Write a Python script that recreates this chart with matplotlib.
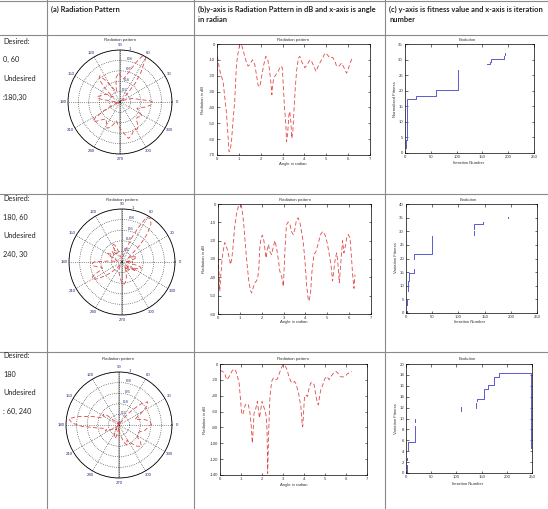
import numpy as np
import matplotlib
matplotlib.use('Agg')
import matplotlib.pyplot as plt
from matplotlib.lines import Line2D

plt.rcParams['font.family'] = ['Liberation Sans', 'DejaVu Sans']
plt.rcParams['axes.unicode_minus'] = False

# ---------------- data ----------------
headers = ["(a) Radiation Pattern",
           "(b)y-axis is Radiation Pattern in dB and x-axis is angle\nin radian",
           "(c) y-axis is fitness value and x-axis is iteration\nnumber"]
row_labels = [["Desired:", "0, 60", "Undesired", ":180,30"],
              ["Desired:", "180, 60", "Undesired", "240, 30"],
              ["Desired:", "180", "Undesired", ": 60, 240"]]

ang1 = [0.00,0.05,0.10,0.15,0.28,0.43,0.50,0.55,0.60,0.66,
        0.73,0.81,0.89,0.96,1.04,1.12,1.19,1.31,1.42,1.50,
        1.62,1.73,1.80,1.88,1.96,2.03,2.14,2.23,2.31,2.39,
        2.46,2.51,2.54,2.60,2.69,2.80,2.90,2.99,3.07,3.15,
        3.18,3.23,3.29,3.33,3.38,3.42,3.47,3.52,3.58,3.64,
        3.72,3.79,3.87,4.02,4.13,4.25,4.33,4.43,4.53,4.63,
        4.74,4.83,4.94,5.05,5.17,5.29,5.40,5.47,5.58,5.70,
        5.81,5.93,6.00,6.09,6.19]
db1 = [-8,-10,-15,-18,-24,-43,-57,-68,-67,-62,
       -49,-36,-13,-6,-0.4,-0.4,-3.6,-10,-14,-13,
       -10,-13,-19,-26,-27,-21.5,-13,-7.8,-8.9,-15,
       -23.6,-32,-26,-21.5,-19.4,-17.3,-14,-15,-36,-51,
       -61.6,-57,-44.7,-42.6,-49,-59.5,-55,-42.6,-28,-17.3,
       -8.9,-7.8,-11,-15,-13,-10,-11,-14,-17.3,-14,
       -11,-8.9,-5.7,-6.8,-8.9,-8.4,-11,-14,-14,-12,
       -15,-18.4,-16,-12,-8.9]

ang2 = [0.00,0.05,0.08,0.12,0.18,0.23,0.31,0.35,0.43,0.50,
        0.57,0.63,0.69,0.76,0.84,0.92,0.99,1.07,1.12,1.18,
        1.25,1.33,1.41,1.48,1.54,1.60,1.68,1.76,1.82,1.87,
        1.91,1.97,2.03,2.10,2.16,2.20,2.25,2.31,2.37,2.45,
        2.52,2.60,2.68,2.75,2.83,2.92,2.99,3.06,3.13,3.21,
        3.29,3.36,3.44,3.52,3.59,3.67,3.75,3.82,3.90,3.98,
        4.05,4.13,4.17,4.24,4.30,4.39,4.48,4.59,4.69,4.79,
        4.89,5.00,5.09,5.17,5.24,5.30,5.37,5.43,5.49,5.55,
        5.60,5.66,5.70,5.76,5.81,5.89,5.96,6.04,6.10,6.16,
        6.22,6.27]
db2 = [-29.5,-38.5,-47.6,-40,-31,-26,-21,-22,-25,-28.5,
       -33,-30,-23,-13,-5.8,-1.8,-0.4,-0.7,-5,-11.3,
       -22,-33,-42,-47,-48.5,-46,-43,-42,-40,-35,
       -24,-18.5,-17,-20,-26,-29.5,-25,-22,-26,-27.6,
       -24,-20,-24,-29.5,-36.7,-40,-45,-26,-11.3,-9.8,
       -11,-15,-16.7,-13.6,-8.5,-7.6,-10.4,-15,-21,-31,
       -44,-52,-53,-47.6,-36.7,-27.6,-26,-21.3,-16.7,-15,
       -16.7,-21.3,-27.6,-33,-42,-36,-29.5,-26.7,-33,-43,
       -35,-26,-20,-26.7,-24,-18.5,-16.7,-18.5,-28,-38.5,
       -46,-38.5]

ang3 = [0.00,0.13,0.24,0.32,0.40,0.48,0.59,0.68,0.76,0.83,
        0.91,0.99,1.03,1.08,1.14,1.21,1.27,1.35,1.43,1.49,
        1.54,1.59,1.62,1.69,1.78,1.83,1.88,1.94,2.00,2.13,
        2.19,2.24,2.27,2.32,2.38,2.46,2.54,2.64,2.73,2.83,
        2.94,3.02,3.10,3.18,3.28,3.37,3.47,3.55,3.62,3.74,
        3.85,3.91,3.94,3.97,4.02,4.09,4.17,4.24,4.32,4.42,
        4.48,4.56,4.64,4.69,4.74,4.80,4.90,4.98,5.09,5.20,
        5.29,5.41,5.52,5.61,5.72,5.83,5.96,6.07,6.20,6.28]
db3 = [-8.4,-9.3,-13.5,-19.8,-17.7,-13.5,-8,-6.3,-9.3,-15.6,
       -24,-49,-62,-64,-57.8,-51,-52.7,-51.5,-62,-79,
       -100,-79,-62,-57.8,-47,-57.8,-68,-57.8,-47,-57.8,
       -64,-83,-138,-83,-41,-22,-17.7,-19.8,-19,-11.4,
       -3.8,-0.8,-2.1,-6.3,-15.6,-22,-24,-22,-24.9,-36.7,
       -53.6,-74.7,-79,-66,-43,-38.8,-41,-30.4,-24,-23.2,
       -26,-38.8,-50,-51.5,-41,-32.5,-26,-19,-15.6,-19.8,
       -15.6,-11.4,-9.3,-11.4,-15.6,-16.5,-15.6,-12.2,-10.5,-9.7]

nan = np.nan
fit1_x = [1,1,nan,2,2,nan,3,3,4,4, 21,21,61,61,102,102,nan,158,165,165,
          167,167,192,192,nan,194,194,nan,250,250]
fit1_y = [1.5,2.7,nan,3.0,4.3,nan,4.3,10,10,17.3, 17.3,18.4,18.4,20.1,20.1,26.6,nan,28.6,28.6,29.3,
          29.3,30.3,30.3,31.0,nan,31.6,32.2,nan,12.2,24.1]
fit2_x = [2,2,nan,2,2,nan,4,4,5,5, 15,15,nan,15,15,50,50,nan,129,129,
          nan,130,130,147,147,nan,194,194,nan,250, 250,nan,250,250]
fit2_y = [0,0.8,nan,2.8,4.9,nan,8.2,11.6,11.6,14.6, 14.6,16.3,nan,19.9,21.6,21.6,28.4,nan,28.7,30.0,
          nan,31.0,32.6,32.6,33.4,nan,34.8,35.4,nan,0, 9.8,nan,26.8,39.6]
fit3_x = [1,1,nan,1,1,nan,3,3,18,18, nan,18,18,nan,109,109,nan,139,139,nan,
          141,141,155,155,162,162,174,174,184,184, 248,248]
fit3_y = [0,1.5,nan,2.3,2.75,nan,4.3,5.6,5.6,8.6, nan,9.3,9.9,nan,11.3,12.1,nan,12.0,12.9,nan,
          13.2,13.6,13.6,15.4,15.4,16.2,16.2,17.6,17.6,18.4, 18.4,4.6]

angle_labels = [str(a) for a in range(0, 360, 30)]
r_ticks = [0.2, 0.4, 0.6, 0.8, 1.0]
r_labels = ['0.2', '0.4', '0.6', '0.8', '1']
iter_ticks = [0, 50, 100, 150, 200, 250]

# ---------------- layout helpers ----------------
W, H = 548, 509
fig = plt.figure(figsize=(W / 100, H / 100), dpi=100)
fig.patch.set_facecolor('white')

def box(l, t, r, b):
    return [l / W, 1 - b / H, (r - l) / W, (b - t) / H]

def fx(x):
    return x / W

def fy(y):
    return 1 - y / H

RED = '#e04848'
BLUE = '#5a5ad2'
NAVY = '#26267a'
TXT = '#333333'
FS = 3.1

# table grid
gc = '#8a8a8a'
for y in [0.5, 34.5, 193.5, 351.5]:
    fig.add_artist(Line2D([0, 1], [fy(y), fy(y)], color=gc, lw=0.8))
for x in [47, 194, 385]:
    fig.add_artist(Line2D([fx(x), fx(x)], [0, 1], color=gc, lw=0.8))

hfont = dict(family=['Lato', 'DejaVu Sans'], fontsize=5.4, fontweight='bold', color='#222222',
             ha='left', va='top', linespacing=1.4)
for x, t in zip([51, 198, 389], headers):
    fig.text(fx(x), fy(6), t, **hfont)

rfont = dict(family=['Lato', 'DejaVu Sans'], fontsize=5.2, color='#222222', ha='left', va='center')
for y0, labs in zip([41, 198.5, 355.5], row_labels):
    for k, t in enumerate(labs):
        fig.text(fx(3), fy(y0 + 18.7 * k), t, **rfont)

def small_text(x, y, t, rot=0):
    fig.text(fx(x), fy(y), t, fontsize=FS, color=TXT, ha='center', va='center', rotation=rot)

def style(ax):
    ax.tick_params(direction='in', length=1.8, width=0.4, labelsize=FS, colors='black',
                   labelcolor=TXT, top=True, right=True, pad=1.5)
    for s in ax.spines.values():
        s.set_linewidth(0.5)

def polar_plot(cx, cy, r, ang, db):
    ax = fig.add_axes(box(cx - r, cy - r, cx + r, cy + r), projection='polar')
    rr = 10 ** (np.array(db) / 40.0)
    ax.plot([np.pi / 2, np.pi / 2], [0, 1], color='#b4b4b4', lw=1.2, zorder=1)
    ax.plot([3 * np.pi / 2, 3 * np.pi / 2], [0, 1], color='#b4b4b4', lw=1.2, zorder=1)
    ax.plot(ang, rr, color=RED, lw=0.6, dashes=(5, 3), zorder=3)
    ax.set_ylim(0, 1)
    ax.set_yticks(r_ticks)
    ax.set_yticklabels(r_labels)
    ax.set_rlabel_position(80)
    ax.set_thetagrids(np.arange(0, 360, 30), labels=angle_labels)
    ax.tick_params(axis='x', labelsize=FS, labelcolor=NAVY, pad=-3.5, length=0)
    ax.tick_params(axis='y', labelsize=FS, labelcolor=NAVY)
    ax.grid(True, color='black', lw=0.45, linestyle=(0, (1, 2)))
    ax.spines['polar'].set_linewidth(0.6)
    return ax

def line_plot(bx, ang, db, ylo, ystep):
    ax = fig.add_axes(box(*bx))
    ax.plot(ang, db, color=RED, lw=0.6, dashes=(5, 3))
    ax.set_xlim(0, 7)
    ax.set_ylim(ylo, 0)
    ax.set_xticks(range(8))
    ax.set_yticks(np.arange(ylo, 1, ystep))
    style(ax)
    return ax

def fit_plot(bx, xs, ys, ytop, ystep):
    ax = fig.add_axes(box(*bx))
    ax.plot(xs, ys, color=BLUE, lw=0.7)
    ax.set_xlim(0, 250)
    ax.set_ylim(0, ytop)
    ax.set_xticks(iter_ticks)
    ax.set_yticks(np.arange(0, ytop + 0.1, ystep))
    style(ax)
    return ax

# polar column
for (cx, cy, r), a, d in zip([(120, 102, 52), (122, 262, 53), (119, 425, 53)],
                             [ang1, ang2, ang3], [db1, db2, db3]):
    polar_plot(cx, cy, r, a, d)
for x, y in [(120, 40), (122, 200), (118, 359)]:
    small_text(x, y, 'Radiation pattern')

# dB column
line_plot((217, 44, 370, 155), ang1, db1, -70, 10)
line_plot((218, 204, 371, 314), ang2, db2, -60, 10)
line_plot((220, 364, 367, 475), ang3, db3, -140, 20)
for x, y in [(293, 40), (295, 200), (293, 359)]:
    small_text(x, y, 'Radiation pattern')
for x, y in [(293, 164), (294, 322), (294, 485)]:
    small_text(x, y, 'Angle in radian')
for x, y in [(203, 100), (204, 259), (205, 420)]:
    small_text(x, y, 'Radiation in dB', rot=90)

# fitness column
fit_plot((405, 44, 534, 153), fit1_x, fit1_y, 35, 5)
fit_plot((406, 204, 537, 313), fit2_x, fit2_y, 40, 5)
fit_plot((406, 364, 532, 473), fit3_x, fit3_y, 20, 2)
for x, y in [(467, 40), (468, 200), (467, 359)]:
    small_text(x, y, 'Evolution')
for x, y in [(469, 163), (470, 322), (468, 484)]:
    small_text(x, y, 'Iteration Number')
for (x, y), t in zip([(395, 99), (396, 258), (396, 419)],
                     ['Normalized Fitness', 'Variation Fitness', 'Variation Fitness']):
    small_text(x, y, t, rot=90)

fig.savefig('out.png', dpi=100, facecolor='white')
